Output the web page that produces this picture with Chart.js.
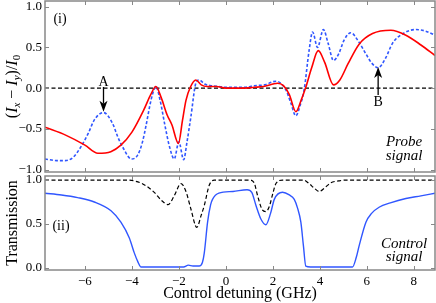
<!DOCTYPE html>
<html>
<head>
<meta charset="utf-8">
<script src="https://cdn.jsdelivr.net/npm/chart.js@4/dist/chart.umd.min.js"></script>
<style>
  html, body { margin: 0; padding: 0; background: #fff; }
  #wrap { position: relative; width: 436px; height: 303px; }
  #top { position: absolute; left: 0; top: 0; }
  #bot { position: absolute; left: 0; top: 174px; }
</style>
</head>
<body>
<div id="wrap">
  <canvas id="top" width="436" height="174"></canvas>
  <canvas id="bot" width="436" height="129"></canvas>
</div>
<script>
// x range (GHz)
const xMin = -7.7, xMax = 8.9;
const xTicks = [-6, -4, -2, 0, 2, 4, 6, 8];
const probeTicks = [-1, -0.5, 0, 0.5, 1];
const transTicks = [0, 0.5, 1];

// panel (i): (Ix - Iy)/I0, red solid
const redX = [-7.7, -6.8, -6.0, -5.45, -4.9, -4.47, -4.0, -3.5, -3.2, -2.98, -2.75, -2.5, -2.3, -2.02, -1.85, -1.7, -1.5, -1.28, -1.05, -0.8, -0.4, 0, 0.4, 0.8, 1.2, 1.6, 2.0, 2.2, 2.45, 2.7, 2.98, 3.2, 3.4, 3.65, 3.93, 4.2, 4.58, 4.85, 5.2, 5.67, 6.24, 7.02, 7.66, 8.3, 8.9];
const redY = [-0.48, -0.58, -0.70, -0.80, -0.78, -0.70, -0.54, -0.27, -0.08, 0.02, -0.12, -0.33, -0.45, -0.68, -0.40, -0.15, 0.02, 0.10, 0.04, 0.02, 0.02, 0.0, 0.0, 0.0, 0.01, 0.02, 0.05, 0.06, 0.03, -0.08, -0.29, -0.15, 0.01, 0.25, 0.46, 0.32, 0.04, 0.10, 0.30, 0.54, 0.67, 0.71, 0.65, 0.53, 0.40];

// panel (i): blue dashed
const blueX = [-7.7, -7.2, -6.85, -6.5, -6.17, -5.85, -5.6, -5.21, -4.83, -4.6, -4.4, -4.02, -3.75, -3.55, -3.4, -3.19, -3.05, -2.98, -2.8, -2.6, -2.4, -2.2, -2.0, -1.8, -1.65, -1.49, -1.28, -1.14, -0.9, -0.64, -0.3, 0, 0.4, 0.8, 1.2, 1.63, 2.13, 2.55, 2.75, 2.98, 3.15, 3.33, 3.54, 3.69, 3.9, 4.15, 4.35, 4.58, 4.8, 5.03, 5.32, 5.65, 5.96, 6.2, 6.48, 6.8, 7.09, 7.6, 8.09, 8.5, 8.9];
const blueY = [-0.87, -0.89, -0.89, -0.85, -0.72, -0.55, -0.39, -0.30, -0.43, -0.60, -0.72, -0.87, -0.82, -0.66, -0.46, -0.15, -0.01, 0.02, -0.15, -0.45, -0.72, -0.87, -0.66, -0.88, -0.65, -0.35, 0.06, 0.10, 0.05, 0.03, 0.02, 0.01, 0.01, 0.01, 0.03, 0.04, 0.085, -0.02, -0.17, -0.34, -0.22, -0.02, 0.46, 0.69, 0.50, 0.72, 0.55, 0.34, 0.42, 0.59, 0.68, 0.57, 0.42, 0.31, 0.25, 0.37, 0.55, 0.68, 0.72, 0.70, 0.65];

// panel (ii): transmission, blue solid
const transBlueX = [-7.7, -7.0, -6.31, -5.6, -4.89, -4.47, -4.11, -3.9, -3.75, -3.62, -3.4, -2.5, -1.8, -1.6, -1.4, -1.14, -1.0, -0.92, -0.78, -0.65, -0.57, -0.3, 0.3, 0.9, 1.1, 1.28, 1.5, 1.7, 1.9, 2.06, 2.41, 2.7, 2.91, 3.05, 3.19, 3.3, 3.4, 3.6, 5.39, 5.55, 5.67, 5.96, 6.2, 6.52, 7.0, 7.66, 8.3, 8.9];
const transBlueY = [0.85, 0.83, 0.80, 0.75, 0.65, 0.52, 0.34, 0.17, 0.07, 0.01, 0.01, 0.01, 0.01, 0.03, 0.02, 0.02, 0.06, 0.17, 0.52, 0.72, 0.78, 0.85, 0.87, 0.89, 0.86, 0.71, 0.55, 0.49, 0.62, 0.78, 0.86, 0.83, 0.78, 0.68, 0.52, 0.25, 0.02, 0.01, 0.01, 0.12, 0.25, 0.52, 0.62, 0.69, 0.74, 0.79, 0.82, 0.85];

// panel (ii): black dashed
const transBlackX = [-7.7, -4.2, -3.9, -3.5, -3.05, -2.75, -2.46, -2.2, -1.91, -1.7, -1.49, -1.24, -1.05, -0.92, -0.71, -0.5, 1.0, 1.2, 1.35, 1.55, 1.7, 1.85, 2.0, 2.13, 2.41, 3.3, 3.54, 3.75, 3.97, 4.2, 4.47, 4.8, 5.1, 8.9];
const transBlackY = [1.0, 1.0, 0.99, 0.95, 0.86, 0.77, 0.72, 0.82, 0.96, 0.87, 0.67, 0.46, 0.60, 0.71, 0.94, 1.0, 1.0, 0.97, 0.82, 0.66, 0.64, 0.70, 0.85, 0.96, 1.0, 1.0, 0.96, 0.91, 0.87, 0.91, 0.97, 0.99, 1.0, 1.0];

const serif = "'Liberation Serif', 'DejaVu Serif', serif";
Chart.defaults.font.family = serif;
Chart.defaults.color = '#000';

const pts = (xs, ys) => xs.map((x, i) => ({ x: x, y: ys[i] }));
const minus = s => s.replace('-', '\u2212');

// fixed axis box, no label overhang padding
const fitY = s => { s.width = 45; s.paddingTop = 0; s.paddingBottom = 0; };
const fitX = s => { s.height = 33; s.paddingLeft = 0; s.paddingRight = 0; };

// inward ticks on all four sides plus grey box
function framePlugin(xt, yt) {
  return {
    id: 'frame',
    afterDraw(chart) {
      const ctx = chart.ctx, a = chart.chartArea;
      const sx = chart.scales.x, sy = chart.scales.y;
      ctx.save();
      ctx.strokeStyle = '#888';
      ctx.lineWidth = 1;
      ctx.beginPath();
      xt.forEach(v => {
        const p = Math.round(sx.getPixelForValue(v)) + 0.5;
        ctx.moveTo(p, a.top); ctx.lineTo(p, a.top + 4);
        ctx.moveTo(p, a.bottom); ctx.lineTo(p, a.bottom - 4);
      });
      yt.forEach(v => {
        const p = Math.round(sy.getPixelForValue(v)) + 0.5;
        ctx.moveTo(a.left, p); ctx.lineTo(a.left + 4, p);
        ctx.moveTo(a.right, p); ctx.lineTo(a.right - 4, p);
      });
      ctx.stroke();
      ctx.lineWidth = 1.5;
      ctx.strokeRect(a.left, a.top, a.right - a.left, a.bottom - a.top);
      ctx.restore();
    }
  };
}

function arrow(ctx, x, y0, y1) {
  // shaft from y0 to tip y1
  const dir = y1 > y0 ? 1 : -1;
  ctx.beginPath();
  ctx.moveTo(x, y0);
  ctx.lineTo(x, y1 - dir * 8);
  ctx.stroke();
  ctx.beginPath();
  ctx.moveTo(x, y1);
  ctx.lineTo(x - 4, y1 - dir * 11);
  ctx.lineTo(x, y1 - dir * 8);
  ctx.lineTo(x + 4, y1 - dir * 11);
  ctx.closePath();
  ctx.fill();
}

const probeText = {
  id: 'probeText',
  afterDraw(chart) {
    const ctx = chart.ctx, sx = chart.scales.x, sy = chart.scales.y;
    ctx.save();
    ctx.fillStyle = '#000';
    ctx.strokeStyle = '#000';
    ctx.lineWidth = 1.3;
    ctx.font = '14px ' + serif;
    ctx.textAlign = 'center';
    ctx.textBaseline = 'alphabetic';
    ctx.fillText('(i)', 60, 23);
    ctx.fillText('A', sx.getPixelForValue(-5.21), 86);
    ctx.fillText('B', sx.getPixelForValue(6.48), 106);
    arrow(ctx, sx.getPixelForValue(-5.21), 87, sy.getPixelForValue(-0.29));
    arrow(ctx, sx.getPixelForValue(6.48), 95, sy.getPixelForValue(0.26));
    ctx.font = 'italic 15px ' + serif;
    ctx.fillText('Probe', 404, 146);
    ctx.fillText('signal', 404, 160);

    // y title (I_x - I_y)/I_0 with subscripts
    const parts = [
      ['(', '', 0], ['I', 'italic ', 0], ['x', 'italic ', 1], [' \u2212 ', '', 0],
      ['I', 'italic ', 0], ['y', 'italic ', 1], [')/', '', 0], ['I', 'italic ', 0], ['0', '', 1]
    ];
    const fontOf = p => p[1] + (p[2] ? '11px ' : '16px ') + serif;
    let total = 0;
    parts.forEach(p => { ctx.font = fontOf(p); total += ctx.measureText(p[0]).width; });
    const a = chart.chartArea;
    ctx.translate(17, (a.top + a.bottom) / 2);
    ctx.rotate(-Math.PI / 2);
    ctx.textAlign = 'left';
    let cx = -total / 2;
    parts.forEach(p => {
      ctx.font = fontOf(p);
      ctx.fillText(p[0], cx, p[2] ? 3 : 0);
      cx += ctx.measureText(p[0]).width;
    });
    ctx.restore();
  }
};

const transText = {
  id: 'transText',
  afterDraw(chart) {
    const ctx = chart.ctx;
    ctx.save();
    ctx.fillStyle = '#000';
    ctx.textAlign = 'center';
    ctx.font = '14px ' + serif;
    ctx.fillText('(ii)', 61, 56);
    ctx.font = 'italic 15px ' + serif;
    ctx.fillText('Control', 404, 74);
    ctx.fillText('signal', 404, 87);
    ctx.restore();
  }
};

const tickFont = { size: 13 };

new Chart(document.getElementById('top'), {
  type: 'line',
  data: {
    datasets: [
      { data: pts(redX, redY), borderColor: '#ff0000', borderWidth: 1.6, cubicInterpolationMode: 'monotone' },
      { data: pts(blueX, blueY), borderColor: '#3056ff', borderWidth: 1.6, borderDash: [3, 2], cubicInterpolationMode: 'monotone' },
      { data: pts([xMin, xMax], [0, 0]), borderColor: '#000', borderWidth: 1.1, borderDash: [4, 2.5] }
    ]
  },
  options: {
    responsive: false,
    animation: false,
    layout: { padding: { top: 1, right: 1, bottom: 2, left: 0 } },
    elements: { point: { radius: 0 } },
    plugins: { legend: { display: false }, tooltip: { enabled: false } },
    scales: {
      x: { type: 'linear', min: xMin, max: xMax, display: false },
      y: {
        min: -1.03, max: 1.07,
        afterFit: fitY,
        afterBuildTicks: s => { s.ticks = probeTicks.map(v => ({ value: v })); },
        ticks: { font: tickFont, padding: 3, autoSkip: false, callback: v => minus(v.toFixed(1)) },
        grid: { display: false, drawTicks: false },
        border: { display: false }
      }
    }
  },
  plugins: [framePlugin(xTicks, probeTicks), probeText]
});

new Chart(document.getElementById('bot'), {
  type: 'line',
  data: {
    datasets: [
      { data: pts(transBlueX, transBlueY), borderColor: '#3056ff', borderWidth: 1.4, cubicInterpolationMode: 'monotone' },
      { data: pts(transBlackX, transBlackY), borderColor: '#000', borderWidth: 1.2, borderDash: [4, 2.5], cubicInterpolationMode: 'monotone' }
    ]
  },
  options: {
    responsive: false,
    animation: false,
    layout: { padding: { top: 2, right: 1, bottom: 0, left: 0 } },
    elements: { point: { radius: 0 } },
    plugins: { legend: { display: false }, tooltip: { enabled: false } },
    scales: {
      x: {
        type: 'linear', min: xMin, max: xMax,
        afterFit: fitX,
        afterBuildTicks: s => { s.ticks = xTicks.map(v => ({ value: v })); },
        ticks: { font: tickFont, padding: 4, autoSkip: false, maxRotation: 0, callback: v => minus(String(v)) },
        grid: { display: false, drawTicks: false },
        border: { display: false },
        title: { display: true, text: 'Control detuning (GHz)', font: { size: 16 }, padding: 0 }
      },
      y: {
        min: -0.025, max: 1.046,
        afterFit: fitY,
        afterBuildTicks: s => { s.ticks = transTicks.map(v => ({ value: v })); },
        ticks: { font: tickFont, padding: 3, autoSkip: false, callback: v => v.toFixed(1) },
        grid: { display: false, drawTicks: false },
        border: { display: false },
        title: { display: true, text: 'Transmission', font: { size: 16 }, padding: 3 }
      }
    }
  },
  plugins: [framePlugin(xTicks, transTicks), transText]
});
</script>
</body>
</html>
